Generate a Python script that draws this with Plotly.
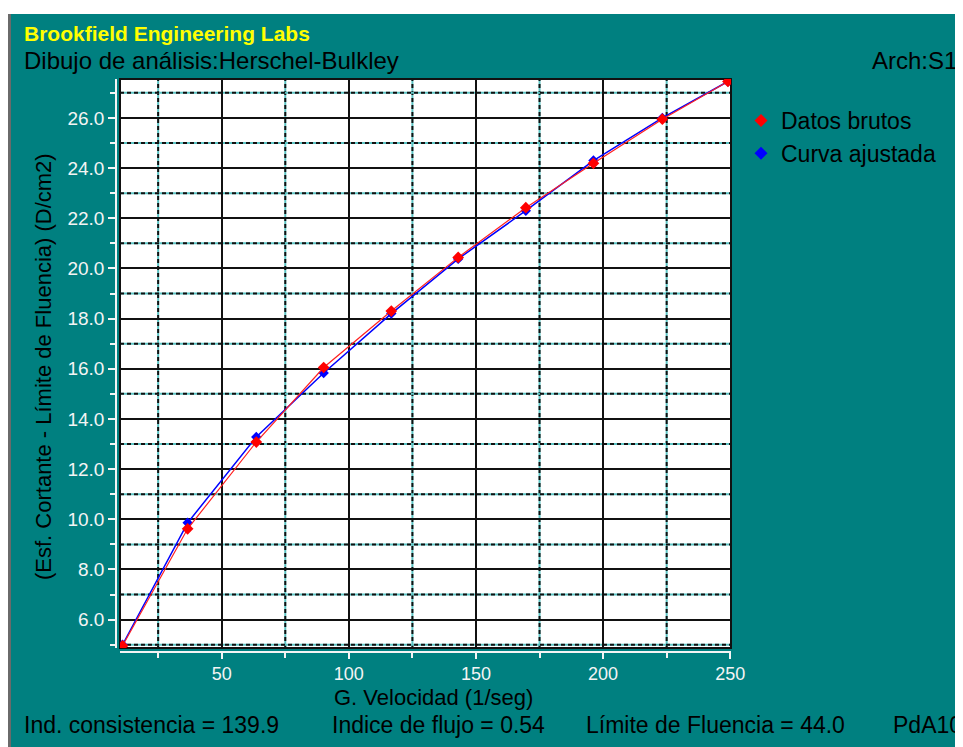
import plotly.graph_objects as go

# ---- data ----
shear_rate = [11.0, 36.6, 63.6, 90.1, 116.7, 143.0, 169.6, 196.2, 223.3, 249.1]
raw_data = [4.96, 9.62, 13.08, 16.05, 18.30, 20.44, 22.42, 24.19, 25.95, 27.45]
fitted_curve = [5.00, 9.86, 13.28, 15.83, 18.20, 20.38, 22.30, 24.30, 26.00, 27.45]

x_range = [10.0, 250.3]
y_range = [4.87, 27.55]
x_major = [50, 100, 150, 200, 250]
x_minor = [25, 75, 125, 175, 225]
y_major = [6, 8, 10, 12, 14, 16, 18, 20, 22, 24, 26]
y_minor = [5, 7, 9, 11, 13, 15, 17, 19, 21, 23, 25, 27]

header_title = "Brookfield Engineering Labs"
header_sub = "Dibujo de análisis:Herschel-Bulkley"
header_file = "Arch:S1"
x_title = "G. Velocidad (1/seg)"
y_title = "(Esf. Cortante - Límite de Fluencia) (D/cm2)"
footer_parts = ["Ind. consistencia = 139.9", "Indice de flujo = 0.54",
                "Límite de Fluencia = 44.0", "PdA10"]
footer_px = [22, 330, 584, 891]

TEAL = "#008080"
FONT = "Liberation Sans, Arial, sans-serif"
W, H = 963, 747
OFF = 8  # page body margin
# paper area in reference-screen pixels
PL, PR, PT, PB = 116, 731, 79, 652


def px(x):
    return (x - PL) / (PR - PL)


def py(y):
    return (PB - y) / (PB - PT)


fig = go.Figure()

fig.add_trace(go.Scatter(
    x=shear_rate, y=fitted_curve, mode="lines+markers", name="Curva ajustada",
    line=dict(color="#0000ff", width=1.5),
    marker=dict(symbol="diamond", size=8, color="#0000ff"),
    showlegend=False))
fig.add_trace(go.Scatter(
    x=shear_rate, y=raw_data, mode="lines+markers", name="Datos brutos",
    line=dict(color="#ff2020", width=1.2),
    marker=dict(symbol="diamond", size=9, color="#ff0000"),
    showlegend=False))

# legend entries (marker only, as in the reference)
fig.add_trace(go.Scatter(x=[None], y=[None], mode="markers", name="Datos brutos",
                         marker=dict(symbol="diamond", size=10, color="#ff0000")))
fig.add_trace(go.Scatter(x=[None], y=[None], mode="markers", name="Curva ajustada",
                         marker=dict(symbol="diamond", size=10, color="#0000ff")))

shapes = []
# white frame strip on top and grey edge on the left of the teal window
shapes.append(dict(type="rect", xref="paper", yref="paper", x0=px(-5), x1=px(975),
                   y0=py(14), y1=py(-5), fillcolor="white", line_width=0, layer="below"))
shapes.append(dict(type="rect", xref="paper", yref="paper", x0=px(8), x1=px(11),
                   y0=py(770), y1=py(14), fillcolor="#6a6a6a", line_width=0, layer="below"))

# minor grid: teal line with black dashes over it
for v in x_minor:
    shapes.append(dict(type="line", xref="x", yref="y domain", x0=v, x1=v, y0=0, y1=1,
                       line=dict(color="#5cc4c4", width=2), layer="below"))
    shapes.append(dict(type="line", xref="x", yref="y domain", x0=v, x1=v, y0=0, y1=1,
                       line=dict(color="#111111", width=2, dash="4px,3px"), layer="below"))
for v in y_minor:
    shapes.append(dict(type="line", xref="x domain", yref="y", x0=0, x1=1, y0=v, y1=v,
                       line=dict(color="#5cc4c4", width=2), layer="below"))
    shapes.append(dict(type="line", xref="x domain", yref="y", x0=0, x1=1, y0=v, y1=v,
                       line=dict(color="#111111", width=2, dash="4px,3px"), layer="below"))
# plot border
shapes.append(dict(type="rect", xref="x domain", yref="y domain", x0=0, x1=1, y0=0, y1=1,
                   line=dict(color="#111111", width=2), layer="below"))

annotations = [
    dict(text="<b>%s</b>" % header_title, x=px(22), y=py(33), xref="paper", yref="paper",
         xanchor="left", yanchor="middle", showarrow=False,
         font=dict(family=FONT, size=21, color="#ffff00")),
    dict(text=header_sub, x=px(22), y=py(60), xref="paper", yref="paper",
         xanchor="left", yanchor="middle", showarrow=False,
         font=dict(family=FONT, size=24, color="#000000")),
    dict(text=header_file, x=px(959), y=py(60), xref="paper", yref="paper",
         xanchor="right", yanchor="middle", showarrow=False,
         font=dict(family=FONT, size=24, color="#000000")),
    dict(text=x_title, x=px(433), y=py(697), xref="paper", yref="paper",
         xanchor="center", yanchor="middle", showarrow=False,
         font=dict(family=FONT, size=22, color="#000000")),
    dict(text=y_title, x=px(43), y=py(367), xref="paper", yref="paper",
         xanchor="center", yanchor="middle", showarrow=False, textangle=-90,
         font=dict(family=FONT, size=22, color="#000000")),
]
for t, xp in zip(footer_parts, footer_px):
    annotations.append(dict(text=t, x=px(xp), y=py(725), xref="paper", yref="paper",
                            xanchor="left", yanchor="middle", showarrow=False,
                            font=dict(family=FONT, size=23, color="#000000")))

tickfont = dict(family=FONT, size=18, color="#f4f4f4")

fig.update_layout(
    width=W, height=H,
    margin=dict(l=PL - OFF, r=W - (PR - OFF), t=PT - OFF, b=H - (PB - OFF), pad=0),
    paper_bgcolor=TEAL, plot_bgcolor="white",
    font=dict(family=FONT),
    xaxis=dict(range=x_range, domain=[(120 - PL) / (PR - PL), 1], anchor="free", position=0,
               tickmode="array", tickvals=x_major, ticktext=[str(v) for v in x_major],
               ticks="outside", ticklen=6, tickwidth=1.5, tickcolor="#f4f4f4",
               showline=True, linecolor="#f4f4f4", linewidth=1.5,
               showgrid=True, gridcolor="#111111", gridwidth=2,
               minor=dict(tickmode="array", tickvals=x_minor, ticks="outside", ticklen=5,
                          tickwidth=1.5, tickcolor="#f4f4f4", showgrid=False),
               tickfont=tickfont, zeroline=False),
    yaxis=dict(range=y_range, domain=[(PB - 648) / (PB - PT), 1], anchor="free", position=0,
               tickmode="array", tickvals=y_major, ticktext=["%.1f" % v for v in y_major],
               ticks="outside", ticklen=7, tickwidth=1.5, tickcolor="#f4f4f4",
               showline=True, linecolor="#f4f4f4", linewidth=1.5,
               showgrid=True, gridcolor="#111111", gridwidth=2,
               minor=dict(tickmode="array", tickvals=y_minor, ticks="outside", ticklen=5,
                          tickwidth=1.5, tickcolor="#f4f4f4", showgrid=False),
               tickfont=dict(family=FONT, size=19, color="#f4f4f4"), zeroline=False),
    legend=dict(x=px(741), y=py(99), xanchor="left", yanchor="top",
                bgcolor="rgba(0,0,0,0)", font=dict(family=FONT, size=23, color="#000000"),
                tracegroupgap=0),
    shapes=shapes,
    annotations=annotations,
)

fig.write_html("out.html")
